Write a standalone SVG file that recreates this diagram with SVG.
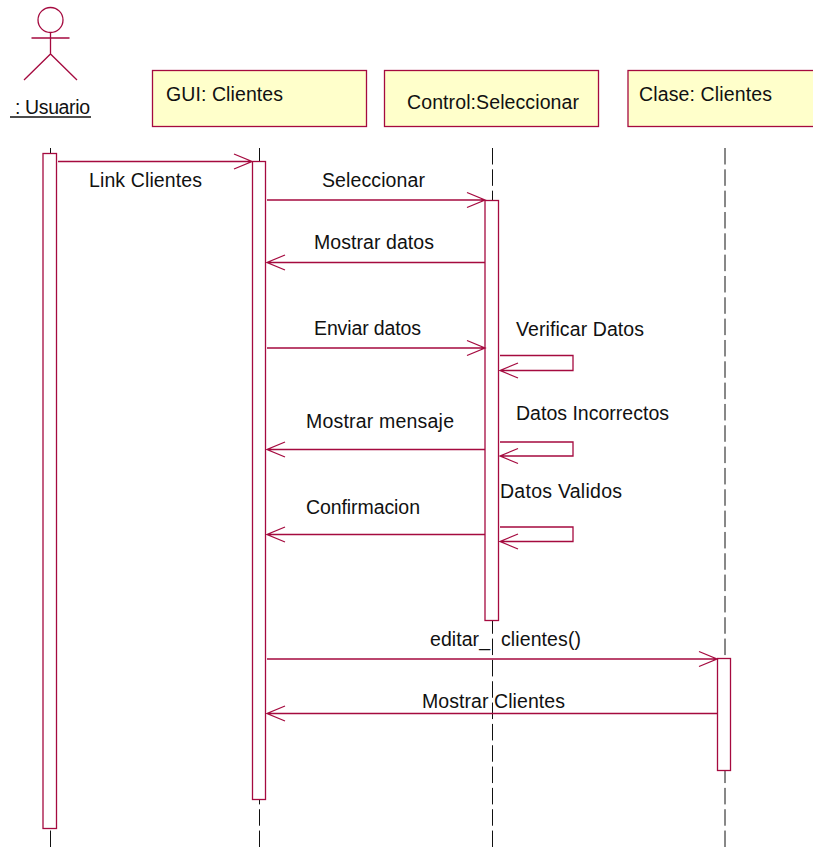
<svg xmlns="http://www.w3.org/2000/svg" width="813" height="847" viewBox="0 0 813 847">
<style>
text{font-family:"Liberation Sans",Arial,sans-serif;font-size:19.5px;fill:#111}
.l{stroke:#111;stroke-width:1;stroke-dasharray:16.500 4.830;fill:none}
.g{stroke:#111;stroke-width:1;stroke-dasharray:16.500 4.830;fill:none}
.box{fill:#ffffcb;stroke:#a50a3f;stroke-width:1.300}
.act{fill:#fff;stroke:#a50a3f;stroke-width:1.300}
.m{fill:none;stroke:#a50a3f;stroke-width:1.300}
</style>
<rect width="813" height="847" fill="#fff"/>
<g id="lifelines">
<path class="l" d="M50.500 148V847M259.500 148V847M492.500 148V847"/>
<path class="g" d="M725 148V847"/>
</g>
<g id="actor-usuario">
<circle class="m" cx="50.500" cy="20" r="12.500"/>
<path class="m" d="M31.500 38H69.500M50.500 33V54M24 80L50.500 54L77 80"/>
<text x="15" y="114" textLength="75">: Usuario</text>
<path d="M10 117H91" stroke="#111" stroke-width="1.500"/>
</g>
<g id="node-gui">
<rect class="box" x="152.500" y="70.500" width="214" height="56"/>
<text x="166" y="101" textLength="117">GUI: Clientes</text>
</g>
<g id="node-control">
<rect class="box" x="384.500" y="70.500" width="214" height="56"/>
<text x="407" y="109" textLength="172">Control:Seleccionar</text>
</g>
<g id="node-clase">
<rect class="box" x="628" y="70.500" width="190" height="56"/>
<text x="639" y="101" textLength="133">Clase: Clientes</text>
</g>
<g id="activations">
<rect class="act" x="43" y="153.500" width="13.500" height="675"/>
<rect class="act" x="252.500" y="161.500" width="13" height="638"/>
<rect class="act" x="485" y="200.500" width="13.500" height="420"/>
<rect class="act" x="717.500" y="658.500" width="13" height="112"/>
</g>
<g id="connectors">
<path class="m" d="M58 161.500H252M234 154L252 161.500L234 169"/>
<path class="m" d="M267 200H485M467 192.500L485 200L467 207.500"/>
<path class="m" d="M485 262.500H267M285 255L267 262.500L285 270"/>
<path class="m" d="M267 348H485M467 340.500L485 348L467 355.500"/>
<path class="m" d="M500 355.500H573V370.500H500M518 363L500 370.500L518 378"/>
<path class="m" d="M485 449.500H267M285 442L267 449.500L285 457"/>
<path class="m" d="M500 442H573V456H500M518 448.500L500 456L518 463.500"/>
<path class="m" d="M485 534.500H267M285 527L267 534.500L285 542"/>
<path class="m" d="M500 527H573V541.500H500M518 534L500 541.500L518 549"/>
<path class="m" d="M267 659H717M699 651.500L717 659L699 666.500"/>
<path class="m" d="M717 713.500H267M285 706L267 713.500L285 721"/>
</g>
<g id="labels">
<text x="89" y="186.500" textLength="113">Link Clientes</text>
<text x="322" y="186.500" textLength="103">Seleccionar</text>
<text x="314" y="248.500" textLength="120">Mostrar datos</text>
<text x="314" y="334.500" textLength="107">Enviar datos</text>
<text x="516" y="335.500" textLength="128">Verificar Datos</text>
<text x="516" y="419.500" textLength="153">Datos Incorrectos</text>
<text x="306" y="427.500" textLength="148">Mostrar mensaje</text>
<text x="500" y="497.500" textLength="122">Datos Validos</text>
<text x="306" y="513.500" textLength="114">Confirmacion</text>
<text x="430" y="645.500" textLength="60">editar_</text>
<text x="501" y="645.500" textLength="80">clientes()</text>
<text x="422" y="707.500" textLength="143">Mostrar Clientes</text>
</g>
</svg>
